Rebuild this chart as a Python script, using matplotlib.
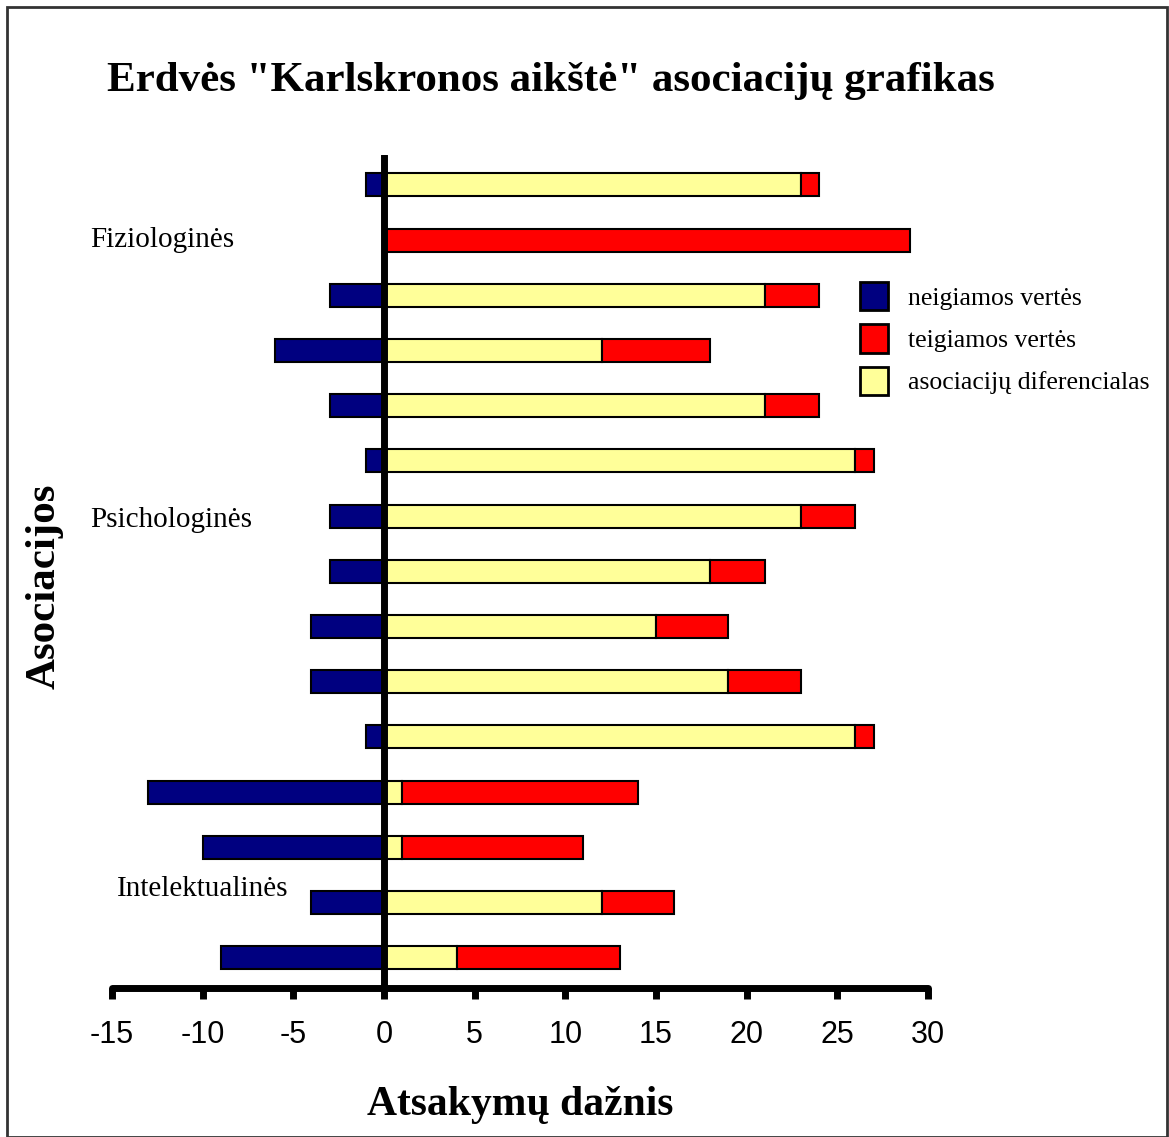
import matplotlib.pyplot as plt
from matplotlib.patches import Patch, Rectangle

# data, rows from top to bottom
neigiamos = [-1, 0, -3, -6, -3, -1, -3, -3, -4, -4, -1, -13, -10, -4, -9]
diferencialas = [23, 0, 21, 12, 21, 26, 23, 18, 15, 19, 26, 1, 1, 12, 4]
teigiamos = [24, 29, 24, 18, 24, 27, 26, 21, 19, 23, 27, 14, 11, 16, 13]
grupes = ['Fiziologinės', 'Psichologinės', 'Intelektualinės']
grupiu_eil = [1, 6.07, 12.75]
grupiu_x = [-16.2, -16.2, -14.7]
xticks = [-15, -10, -5, 0, 5, 10, 15, 20, 25, 30]

serif = 'Liberation Serif'
sans = 'Liberation Sans'
navy = '#000080'
red = '#FF0000'
yellow = '#FFFF99'

fig = plt.figure(figsize=(11.69, 11.37), dpi=100)
ax = fig.add_axes([0.0958, 0.131, 0.698, 0.7326])

rows = list(range(len(neigiamos)))
h = 0.42
ax.barh(rows, neigiamos, height=h, color=navy, edgecolor='black', linewidth=1.5, zorder=2)
ax.barh(rows, diferencialas, height=h, color=yellow, edgecolor='black', linewidth=1.5, zorder=2)
red_w = [t - d for t, d in zip(teigiamos, diferencialas)]
ax.barh(rows, red_w, left=diferencialas, height=h, color=red, edgecolor='black', linewidth=1.5, zorder=2)

ax.set_xlim(-15, 30)
ax.set_ylim(14.55, -0.54)

# axes look
for s in ['top', 'right', 'left']:
    ax.spines[s].set_visible(False)
ax.spines['bottom'].set_linewidth(5)
ax.spines['bottom'].set_capstyle('round')
ax.axvline(0, color='black', linewidth=5, zorder=3, solid_capstyle='round')
ax.set_yticks([])
ax.set_xticks(xticks)
ax.set_xticklabels([str(v) for v in xticks], fontfamily=sans, fontsize=22)
ax.tick_params(axis='x', direction='out', length=8, width=5, pad=15)

for g, r, x in zip(grupes, grupiu_eil, grupiu_x):
    ax.text(x, r, g, fontfamily=serif, fontsize=21, va='center', ha='left')

ax.set_xlabel('Atsakymų dažnis', fontfamily=serif, fontsize=30, fontweight='bold', labelpad=26)
fig.text(0.038, 0.484, 'Asociacijos', rotation=90, fontfamily=serif, fontsize=31,
         fontweight='bold', ha='center', va='center')
fig.text(0.471, 0.929, 'Erdvės "Karlskronos aikštė" asociacijų grafikas', fontfamily=serif,
         fontsize=31, fontweight='bold', ha='center', va='center')

handles = [Patch(facecolor=navy, edgecolor='black', linewidth=2, label='neigiamos vertės'),
           Patch(facecolor=red, edgecolor='black', linewidth=2, label='teigiamos vertės'),
           Patch(facecolor=yellow, edgecolor='black', linewidth=2, label='asociacijų diferencialas')]
fig.legend(handles=handles, loc='upper left', bbox_to_anchor=(0.716, 0.772), frameon=False,
           prop={'family': serif, 'size': 18.5}, handlelength=1.1, handleheight=1.3,
           labelspacing=0.55, handletextpad=0.75)

# outer frame
fig.patches.append(Rectangle((0.006, 0.0), 0.992, 0.994, transform=fig.transFigure,
                             fill=False, edgecolor='#333333', linewidth=2))

fig.savefig('out.png', dpi=100)
